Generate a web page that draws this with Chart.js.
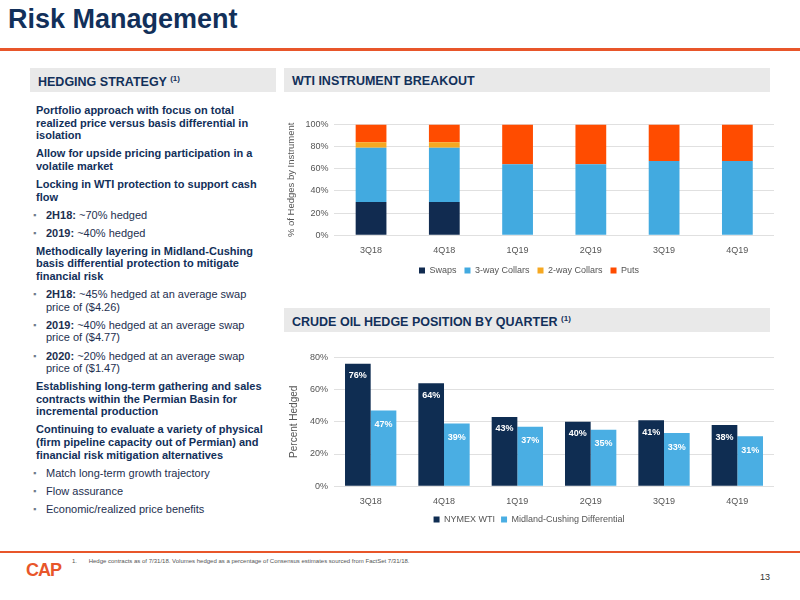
<!DOCTYPE html>
<html><head><meta charset="utf-8">
<script src="https://cdn.jsdelivr.net/npm/chart.js@4"></script>
<style>
body{margin:0;width:800px;height:600px;position:relative;font-family:"Liberation Sans",Arial,sans-serif;background:#fff;overflow:hidden}
.t{position:absolute;left:8px;top:4px;font-size:27px;font-weight:bold;color:#12305a}
.rule{position:absolute;left:0;top:48px;width:800px;height:3px;background:#e8562a}
.hd{position:absolute;background:#e9e9e9;color:#12305a;font-weight:bold;font-size:12.5px;padding:6px 8px;box-sizing:border-box;height:24px}
.hd sup{font-size:8px}
.left{position:absolute;left:36px;top:104px;width:232px;font-size:11px;color:#12305a;line-height:12.6px}
.left p{margin:0 0 5.5px 0;font-weight:bold}
.left li{list-style:none;margin:0 0 5.5px 0;padding-left:10px;position:relative;color:#1d2f4f}
.left li:before{content:"▪";position:absolute;left:-3px;color:#6e7a8a;font-size:9px}
.left ul{margin:0;padding:0}
.foot{position:absolute;left:0;top:551px;width:800px;height:2px;background:#e8562a}
.fn{position:absolute;left:72px;top:558px;font-size:6px;color:#555}
.pg{position:absolute;right:30px;top:572px;font-size:9px;color:#333}
.logo{position:absolute;left:26px;top:560px;font-size:18px;font-weight:bold;color:#e8562a;letter-spacing:-1px}
</style></head><body>
<div class="t">Risk Management</div>
<div class="rule"></div>
<div class="hd" style="left:30px;top:68px;width:246px">HEDGING STRATEGY <sup>(1)</sup></div>
<div class="hd" style="left:284px;top:68px;width:486px">WTI INSTRUMENT BREAKOUT</div>
<div class="hd" style="left:284px;top:308px;width:486px">CRUDE OIL HEDGE POSITION BY QUARTER <sup>(1)</sup></div>
<div class="left">
<p>Portfolio approach with focus on total realized price versus basis differential in isolation</p>
<p>Allow for upside pricing participation in a volatile market</p>
<p>Locking in WTI protection to support cash flow</p>
<ul><li><b>2H18:</b> ~70% hedged</li><li><b>2019:</b> ~40% hedged</li></ul>
<p>Methodically layering in Midland-Cushing basis differential protection to mitigate financial risk</p>
<ul><li><b>2H18:</b> ~45% hedged at an average swap price of ($4.26)</li><li><b>2019:</b> ~40% hedged at an average swap price of ($4.77)</li><li><b>2020:</b> ~20% hedged at an average swap price of ($1.47)</li></ul>
<p>Establishing long-term gathering and sales contracts within the Permian Basin for incremental production</p>
<p>Continuing to evaluate a variety of physical (firm pipeline capacity out of Permian) and financial risk mitigation alternatives</p>
<ul><li>Match long-term growth trajectory</li><li>Flow assurance</li><li>Economic/realized price benefits</li></ul>
</div>
<div style="position:absolute;left:284px;top:113px;width:490px;height:172px"><canvas id="c1"></canvas></div>
<div style="position:absolute;left:284px;top:346px;width:490px;height:188px"><canvas id="c2"></canvas></div>
<div class="foot"></div>
<div class="fn">1.&nbsp;&nbsp;&nbsp;&nbsp;&nbsp;&nbsp;&nbsp;Hedge contracts as of 7/31/18. Volumes hedged as a percentage of Consensus estimates sourced from FactSet 7/31/18.</div>
<div class="logo">CAP</div>
<div class="pg">13</div>
<script>
const quarters=["3Q18","4Q18","1Q19","2Q19","3Q19","4Q19"];
const swaps=[30,30,0,0,0,0];
const threeWay=[49,49,64,64,67,67];
const twoWay=[5,5,0,0,0,0];
const puts=[16,16,36,36,33,33];
const nymex=[76,64,43,40,41,38];
const midland=[47,39,37,35,33,31];
const tickFont={family:"Liberation Sans",size:9};
const gridC="#e0e0e0";
new Chart(document.getElementById('c1'),{type:'bar',
data:{labels:quarters,datasets:[
{label:'Swaps',data:swaps,backgroundColor:'#112b50'},
{label:'3-way Collars',data:threeWay,backgroundColor:'#42aae0'},
{label:'2-way Collars',data:twoWay,backgroundColor:'#f6a821'},
{label:'Puts',data:puts,backgroundColor:'#ff4c00'}]},
options:{responsive:true,maintainAspectRatio:false,animation:false,layout:{padding:{top:4}},
datasets:{bar:{categoryPercentage:1,barPercentage:0.42}},
plugins:{legend:{position:'bottom',labels:{boxWidth:6,boxHeight:6,font:tickFont,color:'#555',padding:8}},tooltip:{enabled:false}},
scales:{x:{stacked:true,grid:{display:false},border:{color:gridC},ticks:{font:tickFont,color:'#555',padding:2}},
y:{stacked:true,min:0,max:100,ticks:{stepSize:20,font:tickFont,color:'#555',padding:6,callback:v=>v+'%'},grid:{color:gridC,drawTicks:false},border:{display:false},
title:{display:true,text:'% of Hedges by Instrument',font:{family:"Liberation Sans",size:9.5},color:'#555',padding:2}}}}});
const lbl={id:'lbl',afterDatasetsDraw(ch){const c=ch.ctx;c.save();c.font='bold 9px Liberation Sans';c.textAlign='center';c.fillStyle='#fff';
ch.data.datasets.forEach((d,i)=>{ch.getDatasetMeta(i).data.forEach((b,j)=>{c.fillText(d.data[j]+'%',b.x,b.y+(i==0?12:14));});});c.restore();}};
new Chart(document.getElementById('c2'),{type:'bar',
data:{labels:quarters,datasets:[
{label:'NYMEX WTI',data:nymex,backgroundColor:'#0f2d52'},
{label:'Midland-Cushing Differential',data:midland,backgroundColor:'#4aaee3'}]},
options:{responsive:true,maintainAspectRatio:false,animation:false,layout:{padding:{top:4}},
datasets:{bar:{categoryPercentage:0.7,barPercentage:1}},
plugins:{legend:{position:'bottom',labels:{boxWidth:6,boxHeight:6,font:tickFont,color:'#555',padding:6}},tooltip:{enabled:false}},
scales:{x:{grid:{display:false},border:{color:gridC},ticks:{font:tickFont,color:'#555',padding:2}},
y:{min:0,max:80,ticks:{stepSize:20,font:tickFont,color:'#555',padding:6,callback:v=>v+'%'},grid:{color:gridC,drawTicks:false},border:{display:false},
title:{display:true,text:'Percent Hedged',font:{family:"Liberation Sans",size:10},color:'#555'}}}},plugins:[lbl]});
</script>
</body></html>
